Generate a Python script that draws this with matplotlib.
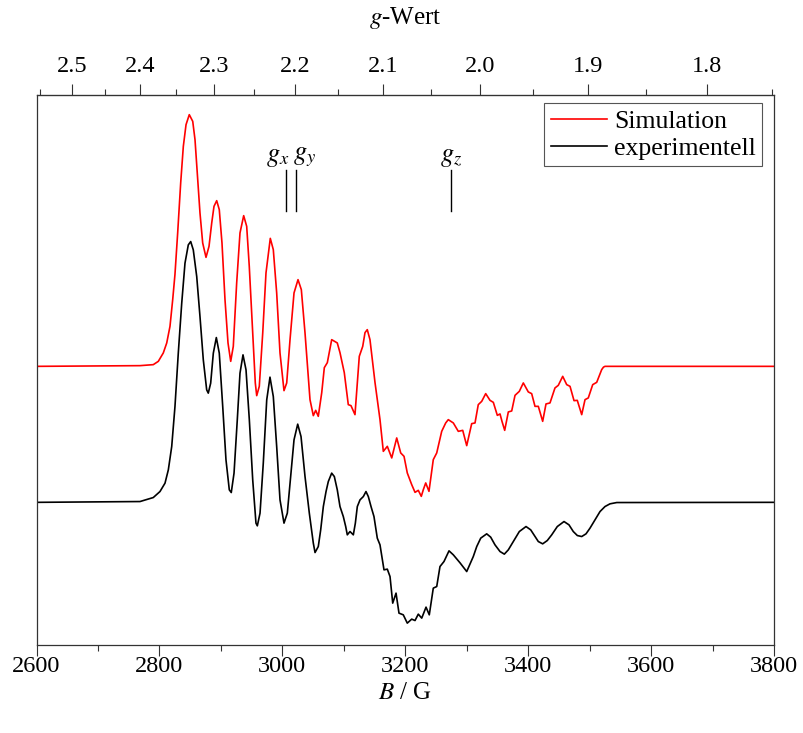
"""EPR spectrum: simulation vs experiment with g-value top axis."""

import matplotlib

matplotlib.use("Agg")
import matplotlib.pyplot as plt
import numpy as np
from matplotlib.ticker import FixedLocator, FormatStrFormatter

plt.rcParams["font.family"] = ["Liberation Serif", "DejaVu Serif"]
plt.rcParams["mathtext.fontset"] = "stix"

# microwave frequency (GHz) used for the g-value axis
FREQ_GHZ = 9.30
G_CONST = 714.4773 * FREQ_GHZ  # g * B (B in Gauss)

# simulated spectrum: field (G) and intensity (a.u.)
sim_B = [2600, 2768.4, 2790.0, 2798.2, 2806.3, 2811.9, 2817.2, 2821.6, 2825.3, 2829.7,
         2834.6, 2838.9, 2843.3, 2848.6, 2854.2, 2857.9, 2861.6, 2866.0, 2870.4, 2875.8,
         2880.7, 2885.1, 2888.8, 2893.2, 2897.4, 2901.8, 2906.7, 2911.6, 2916.0, 2920.2,
         2925.7, 2931.1, 2937.1, 2942.0, 2946.2, 2951.8, 2956.0, 2958.3, 2962.5, 2968.1,
         2973.4, 2980.4, 2985.3, 2990.8, 2996.2, 3002.7, 3007.1, 3012.5, 3019.0, 3025.5,
         3030.9, 3036.9, 3042.2, 3045.0, 3050.4, 3054.3, 3058.5,
         3064.1, 3068.3, 3073.2, 3080.3, 3089.4, 3093.8, 3100.8, 3107.3, 3111.7, 3118.2,
         3125.2, 3130.8, 3134.5, 3138.2, 3142.6, 3150.8, 3158.9, 3164.3, 3170.8, 3178.0,
         3186.1, 3192.6, 3198.0, 3203.3, 3210.5, 3215.9, 3221.2, 3226.1, 3229.4, 3233.3,
         3238.6, 3245.6, 3251.2, 3259.3, 3265.8, 3270.0, 3278.2, 3286.3, 3293.5, 3300.0,
         3308.1, 3313.5, 3318.8, 3324.4, 3330.9, 3337.9, 3343.3, 3349.8, 3354.2, 3357.4,
         3361.8, 3367.7, 3373.2, 3378.6, 3385.6, 3392.1, 3400.2, 3405.7, 3411.1, 3416.5,
         3423.6, 3429.0, 3435.5, 3443.6, 3449.0, 3456.2, 3462.7, 3468.1, 3474.6, 3479.9,
         3487.1, 3492.5, 3497.8, 3505.0, 3511.5, 3516.0, 3519.6, 3522.5, 3525.0, 3800]
sim_I = [0, 0.7, 1.7, 5, 13.4, 23.4, 40, 66.7, 92, 133.4,
         183.4, 220, 241.7, 251.7, 245, 226.7, 193.4, 153.4, 123.4, 109,
         120, 143.4, 160, 165.7, 156.7, 123.4, 66.7, 23.4, 5, 20,
         83.4, 133.4, 150.7, 140, 100, 33.4, -16.6, -29.3, -20, 33.4,
         93.4, 128, 116.7, 73.4, 13.4, -24.3, -16.6, 26.7, 73.4, 86.7,
         76.7, 33.4, -10, -33.3, -49.3, -44, -50,
         -26.3, -1.3, 3.7, 26.7, 23.4, 13.7, -6.3, -38.3, -39.3, -48.3,
         10, 20, 33.7, 36.7, 26.7, -16.3, -53.3, -85, -80, -91.6,
         -71.6, -86.6, -90, -106.6, -118.3, -126, -124, -130, -123.3, -116.6,
         -125, -93.3, -86.6, -65, -56.6, -53.3, -56.6, -65, -64, -79.3,
         -57.3, -56.6, -38.3, -35, -27.3, -34, -36, -49, -47.6, -55,
         -64, -45.6, -44.6, -29, -25, -16.6, -25.6, -27.3, -40, -40,
         -55, -37.6, -36.6, -21.6, -19, -10, -18.3, -20, -34.3, -34,
         -48.3, -33.3, -31.6, -18.3, -16, -9, -3.3, -0.8, 0, 0]

# experimental spectrum: field (G) and intensity (a.u.)
exp_B = [2600, 2768.4, 2790.0, 2800.9, 2809.1, 2814.5, 2820.0, 2825.3, 2830.7, 2836.3,
         2841.6, 2847.0, 2850.9, 2855.1, 2860.7, 2866.0, 2871.4, 2876.9, 2879.5, 2883.4,
         2887.7, 2892.6, 2897.4, 2903.0, 2908.3, 2913.7, 2916.9, 2921.4, 2926.7, 2931.1,
         2936.0, 2940.9, 2946.3, 2951.8, 2957.1, 2959.3, 2963.7, 2969.0, 2974.6, 2979.9,
         2985.3, 2990.8, 2996.2, 3002.7, 3008.1, 3013.6, 3019.0, 3025.0, 3030.4, 3036.9,
         3043.9, 3050.4, 3053.2, 3058.5, 3062.4, 3066.7, 3071.1, 3074.8, 3080.3, 3084.6,
         3089.4, 3093.8, 3099.2, 3103.1, 3105.7, 3110.1, 3115.5, 3118.8, 3122.0, 3126.4,
         3131.8, 3136.1, 3139.9, 3144.3, 3149.1, 3154.5, 3158.9, 3165.4, 3170.8, 3175.2,
         3179.6, 3185.0, 3189.8, 3196.8, 3203.3, 3210.5, 3215.9, 3221.2, 3226.8, 3233.8,
         3239.1, 3245.6, 3251.2, 3256.5, 3263.0, 3271.2, 3278.2, 3289.1, 3300.0, 3310.7,
         3316.3, 3322.8, 3332.5, 3339.0, 3346.0, 3354.2, 3361.2, 3367.7, 3375.8, 3385.6,
         3396.5, 3404.1, 3411.1, 3416.5, 3423.6, 3431.1, 3438.3, 3447.4, 3458.3, 3466.4,
         3473.4, 3480.0, 3487.1, 3494.1, 3500.6, 3508.7, 3516.9, 3525.0, 3533.1, 3544.1,
         3800]
exp_I = [0, 0.8, 4.8, 10.8, 19.2, 32.5, 55.8, 95.8, 149.2, 199.2,
         239.2, 257.5, 260.8, 252.5, 225.8, 185.8, 142.5, 112.5, 109.2, 119.2,
         149.2, 164.8, 149.2, 95.8, 42.5, 12.5, 9.8, 29.2, 82.5, 129.2,
         147.5, 132.5, 82.5, 22.5, -20.8, -23.5, -10.8, 39.2, 102.5, 125.2,
         105.8, 55.8, 2.5, -20.8, -10.8, 25.8, 62.5, 78.2, 65.8, 25.8,
         -10.8, -40.8, -50.2, -44.2, -27.5, -4.2, 10.8, 20.8, 29.2, 25.8,
         12.5, -4.2, -14.2, -24.2, -32.5, -29.2, -32.5, -20.8, -4.2, 2.5,
         5.8, 10.8, 5.8, -4.2, -14.2, -35.8, -42.5, -67.5, -66.8, -74.2,
         -100.8, -90.8, -110.8, -112.5, -120.8, -116.8, -118.2, -111.8, -115.8, -104.8,
         -112.5, -85.8, -84.2, -64.2, -59.2, -48.5, -52.5, -60.5, -69.2, -54.2,
         -44.2, -35.8, -31.5, -34.8, -42.5, -49.2, -51.8, -47.5, -39.2, -29.2,
         -24.2, -27.5, -34.2, -39.2, -41.5, -38.2, -32.5, -24.2, -19.2, -22.5,
         -29.2, -33.2, -34.2, -31.5, -25.8, -17.5, -9.2, -4.2, -1.5, -0.2,
         0]

SIM_OFFSET = 136

# principal g values marked above the spectrum
g_labels = ["$g_x$", "$g_y$", "$g_z$"]
g_values = [2.210, 2.199, 2.029]

g_major = [2.5, 2.4, 2.3, 2.2, 2.1, 2.0, 1.9, 1.8]
g_minor = [2.55, 2.45, 2.35, 2.25, 2.15, 2.05, 1.95, 1.85, 1.75]


def b_to_g(b):
    b = np.asarray(b, dtype=float)
    with np.errstate(divide="ignore"):
        return G_CONST / b


fig = plt.figure(figsize=(8.04, 7.33), dpi=100)
ax = fig.add_axes([0.0454, 0.1196, 0.9173, 0.7503])

ax.plot(sim_B, np.array(sim_I) + SIM_OFFSET, color="#ff0000", lw=1.2, label="Simulation")
ax.plot(exp_B, exp_I, color="black", lw=1.2, label="experimentell")

ax.set_xlim(2600, 3800)
ax.set_ylim(-143, 407)
ax.set_yticks([])
ax.set_xticks(np.arange(2600, 3801, 200))
ax.xaxis.set_minor_locator(FixedLocator(np.arange(2700, 3800, 200)))
ax.tick_params(axis="x", which="major", direction="out", length=8, width=0.8,
               labelsize=17.5, pad=0, colors="#333333", labelcolor="black")
ax.tick_params(axis="x", which="minor", direction="out", length=4, width=0.8,
               colors="#333333")
ax.set_xlabel("$B$ / G", fontsize=18, labelpad=3)
for sp in ax.spines.values():
    sp.set_color("#333333")
    sp.set_linewidth(0.9)

sec = ax.secondary_xaxis("top", functions=(b_to_g, b_to_g))
sec.set_xticks(g_major)
sec.xaxis.set_minor_locator(FixedLocator(g_minor))
sec.xaxis.set_major_formatter(FormatStrFormatter("%.1f"))
sec.tick_params(axis="x", which="major", direction="out", length=8, width=0.8,
                labelsize=17.5, pad=5, colors="#333333", labelcolor="black")
sec.tick_params(axis="x", which="minor", direction="out", length=4, width=0.8,
                colors="#333333")
sec.set_xlabel("$g$-Wert", fontsize=18, labelpad=23)
sec.spines["top"].set_color("#333333")

# g markers
for lab, gv in zip(g_labels, g_values):
    bpos = G_CONST / gv
    ax.plot([bpos, bpos], [291.5, 332.5], color="black", lw=1.0)
    if lab == "$g_x$":
        ha, dx = "right", 2
    elif lab == "$g_y$":
        ha, dx = "left", -2
    else:
        ha, dx = "center", 0
    ax.annotate(lab, xy=(bpos, 333), xytext=(dx, 0), textcoords="offset points",
                ha=ha, va="bottom", fontsize=19)

leg = ax.legend(loc="upper right", bbox_to_anchor=(0.9837, 0.9855), borderaxespad=0,
                fontsize=18.5, frameon=True, fancybox=False, edgecolor="#555555",
                framealpha=1, handlelength=2.2, handletextpad=0.25, labelspacing=0.15,
                borderpad=0.25)
leg.get_frame().set_linewidth(0.8)

fig.savefig("out.png", dpi=100)
